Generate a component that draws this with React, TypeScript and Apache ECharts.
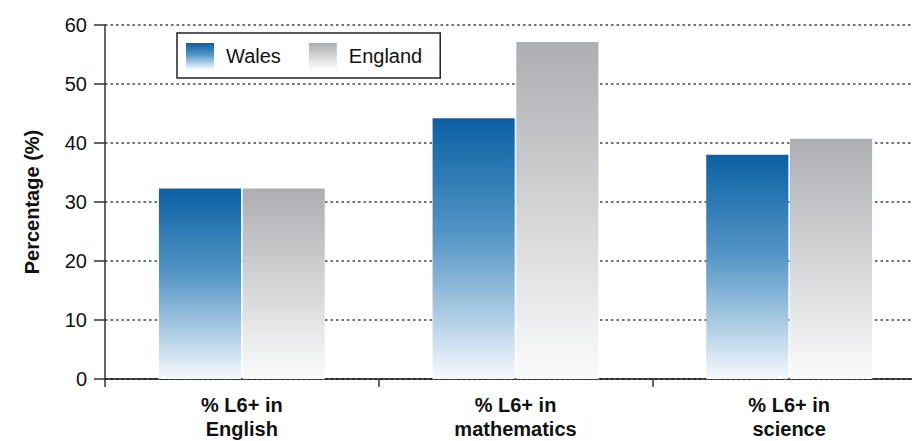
import React, { useEffect, useRef } from "react";
import * as echarts from "echarts";

// Subjects on the category axis
const categories = ["% L6+ in\nEnglish", "% L6+ in\nmathematics", "% L6+ in\nscience"];
// Percentage of pupils reaching level 6+
const walesValues = [32.3, 44.2, 38.0];
const englandValues = [32.3, 57.1, 40.7];
// Value axis
const yMin = 0;
const yMax = 60;
const yInterval = 10;

const walesGradient = new echarts.graphic.LinearGradient(0, 0, 0, 1, [
  { offset: 0, color: "#0a60a4" },
  { offset: 0.45, color: "#5596c6" },
  { offset: 0.8, color: "#b9d4e8" },
  { offset: 1, color: "#f6f9fd" },
]);
const englandGradient = new echarts.graphic.LinearGradient(0, 0, 0, 1, [
  { offset: 0, color: "#adaeb2" },
  { offset: 0.45, color: "#cfd0d2" },
  { offset: 0.8, color: "#ebeced" },
  { offset: 1, color: "#fbfbfb" },
]);

const font = "Liberation Sans, Arial, sans-serif";

export default function App() {
  const ref = useRef<HTMLDivElement>(null);

  useEffect(() => {
    if (!ref.current) return;
    const chart = echarts.init(ref.current, undefined, { renderer: "svg" });
    chart.setOption({
      animation: false,
      backgroundColor: "#ffffff",
      textStyle: { fontFamily: font },
      // the plot runs a little past the right edge of the visible frame
      grid: { left: 105, right: 0, top: 25, bottom: 58, containLabel: false },
      legend: {
        left: 177,
        top: 33,
        orient: "horizontal",
        itemWidth: 28,
        itemHeight: 26,
        itemGap: 28,
        padding: [10, 18, 9, 9],
        borderColor: "#222",
        borderWidth: 1.5,
        borderRadius: 0,
        icon: "rect",
        textStyle: {
          fontSize: 20,
          color: "#111",
          fontFamily: font,
          padding: [0, 0, 0, 7],
        },
        data: ["Wales", "England"],
      },
      xAxis: {
        type: "category",
        data: categories,
        boundaryGap: true,
        axisLine: { show: true, lineStyle: { color: "#111", width: 1.5 } },
        axisTick: { show: true, length: 8, inside: false, lineStyle: { color: "#333", width: 1.5 } },
        axisLabel: {
          fontSize: 20,
          fontWeight: "bold",
          color: "#111",
          lineHeight: 24,
          margin: 14,
          interval: 0,
          fontFamily: font,
        },
      },
      yAxis: {
        type: "value",
        min: yMin,
        max: yMax,
        interval: yInterval,
        name: "Percentage (%)",
        nameLocation: "middle",
        nameGap: 63,
        nameRotate: 90,
        nameTextStyle: { fontSize: 20, fontWeight: "bold", color: "#111", fontFamily: font },
        axisLine: { show: true, lineStyle: { color: "#333", width: 1.5 } },
        axisTick: { show: true, length: 11, inside: false, lineStyle: { color: "#333", width: 1.5 } },
        axisLabel: { fontSize: 20, color: "#111", margin: 18, fontFamily: font },
        splitLine: {
          show: true,
          lineStyle: { color: "#444", width: 1.5, type: [2.5, 3] },
        },
      },
      series: [
        {
          name: "Wales",
          type: "bar",
          data: walesValues,
          barWidth: "30%",
          barGap: "2%",
          itemStyle: { color: walesGradient },
        },
        {
          name: "England",
          type: "bar",
          data: englandValues,
          barWidth: "30%",
          barGap: "2%",
          itemStyle: { color: englandGradient },
        },
      ],
    });
    return () => chart.dispose();
  }, []);

  return (
    <div style={{ position: "fixed", left: 0, top: 0, width: 912, height: 441, overflow: "hidden", background: "#fff" }}>
      <div ref={ref} style={{ width: 926, height: 441 }} />
    </div>
  );
}
